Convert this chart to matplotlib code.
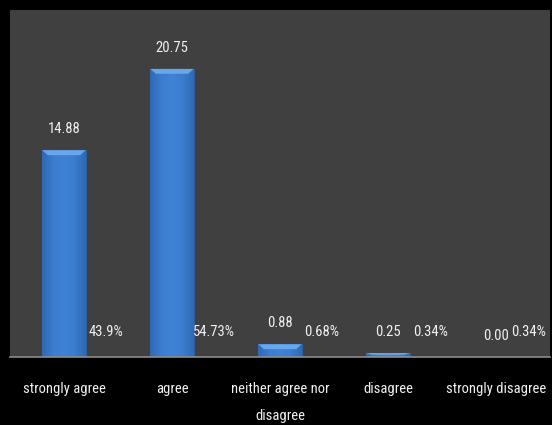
import matplotlib
matplotlib.use("Agg")
import matplotlib.pyplot as plt
import numpy as np
from matplotlib.colors import LinearSegmentedColormap
from matplotlib import font_manager

categories = ["strongly agree", "agree", "neither agree nor\ndisagree", "disagree", "strongly disagree"]
means = [14.88, 20.75, 0.88, 0.25, 0.00]
mean_labels = ["14.88", "20.75", "0.88", "0.25", "0.00"]
percent_labels = ["43.9%", "54.73%", "0.68%", "0.34%", "0.34%"]

names = {f.name for f in font_manager.fontManager.ttflist}
fam = [n for n in ['Liberation Sans Narrow', 'Roboto Condensed', 'Open Sans Condensed', 'Liberation Sans'] if n in names]
plt.rcParams['font.family'] = fam + ['DejaVu Sans']
narrow = fam and fam[0] != 'Liberation Sans'
fs = 10.5 if narrow else 9.5

W, H = 552, 425
fig = plt.figure(figsize=(W / 100, H / 100), dpi=100, facecolor='black')
ax = fig.add_axes([10 / W, (H - 356.5) / H, 540 / W, 346.5 / H])
ax.set_facecolor('#404040')

x = np.arange(len(categories))
bw = 0.4
bars = ax.bar(x, means, width=bw, color='#3b7acc', edgecolor='#2c5f9f', linewidth=0.8, zorder=2)

cmap = LinearSegmentedColormap.from_list('b', ['#3069b2', '#3c7dcf', '#3f83d6', '#3c7dcf', '#3069b2'])
grad = np.linspace(0, 1, 64).reshape(1, -1)
for b in bars:
    h = b.get_height()
    if h <= 0:
        continue
    x0 = b.get_x()
    im = ax.imshow(grad, extent=[x0, x0 + b.get_width(), 0, h], cmap=cmap,
                   aspect='auto', zorder=2.5, interpolation='bilinear')
    im.set_clip_path(b)
    bev = min(0.35, h * 0.5)
    ax.fill([x0, x0 + b.get_width(), x0 + b.get_width() - 0.05, x0 + 0.05],
            [h, h, h - bev, h - bev], color='#6aa6ec', zorder=3, lw=0)

ax.set_xlim(-0.5, len(categories) - 0.5)
ax.set_ylim(0, 25)

tc = '#f0f0f0'
for i, (v, lab) in enumerate(zip(means, mean_labels)):
    ax.annotate(lab, (x[i], v), xytext=(0, 15), textcoords='offset points',
                ha='center', va='center', color=tc, fontsize=fs, zorder=4)

for i, lab in enumerate(percent_labels):
    xp = min(x[i] + 0.39, len(categories) - 1 + 0.30)
    ax.annotate(lab, (xp, 0), xytext=(0, 17.6), textcoords='offset points',
                ha='center', va='center', color=tc, fontsize=fs, zorder=4)

ax.set_xticks(x)
ax.set_xticklabels(categories, color=tc, fontsize=fs, linespacing=2.2)
ax.tick_params(axis='x', length=0, pad=18)
ax.set_yticks([])
for s in ['left', 'right', 'top']:
    ax.spines[s].set_visible(False)
ax.spines['bottom'].set_color('#8c8c8c')
ax.spines['bottom'].set_linewidth(1.2)

fig.savefig('out.png', dpi=100, facecolor='black')
